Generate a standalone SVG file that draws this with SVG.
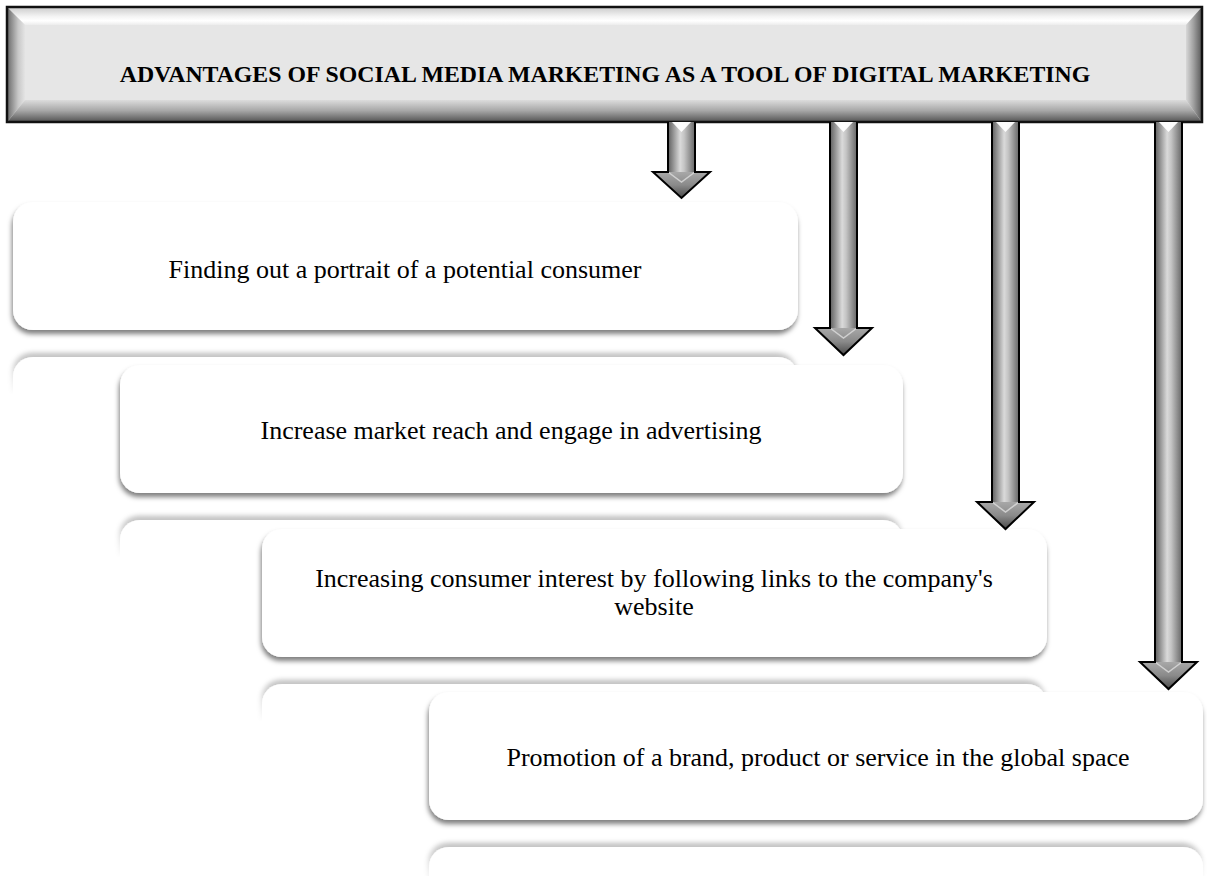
<svg xmlns="http://www.w3.org/2000/svg" xmlns:xlink="http://www.w3.org/1999/xlink" width="1207" height="876" viewBox="0 0 1207 876">
<defs>
<style>
.t{font-family:"Liberation Serif","Times New Roman",serif;font-size:26px;fill:#000;text-anchor:middle}
.title{font-family:"Liberation Serif","Times New Roman",serif;font-size:23.8px;font-weight:bold;fill:#000;text-anchor:middle}
.box{fill:#fff;filter:url(#sh)}
.refl{fill:#fff;filter:url(#shr)}
.outline{fill:none;stroke:#000;stroke-width:2;stroke-linejoin:miter}
.shaft{fill:url(#gShaft)}
.head{fill:url(#gHead)}
.hl{fill:#fff;opacity:0.95}
</style>
<filter id="sh" x="-5%" y="-20%" width="110%" height="150%">
<feDropShadow dx="-1" dy="4" stdDeviation="2.5" flood-color="#000" flood-opacity="0.5"/>
</filter>
<filter id="shr" x="-5%" y="-50%" width="110%" height="200%">
<feDropShadow dx="-1" dy="-4" stdDeviation="2.5" flood-color="#000" flood-opacity="0.4"/>
</filter>
<linearGradient id="gShaft" x1="0" y1="0" x2="1" y2="0">
<stop offset="0" stop-color="#5e5e5e"/>
<stop offset="0.2" stop-color="#959595"/>
<stop offset="0.45" stop-color="#dadada"/>
<stop offset="0.6" stop-color="#c4c4c4"/>
<stop offset="1" stop-color="#666"/>
</linearGradient>
<linearGradient id="gHead" x1="0" y1="0" x2="0" y2="1">
<stop offset="0" stop-color="#a8a8a8"/>
<stop offset="0.5" stop-color="#8a8a8a"/>
<stop offset="1" stop-color="#4a4a4a"/>
</linearGradient>
<linearGradient id="gTop" x1="0" y1="0" x2="0" y2="1">
<stop offset="0" stop-color="#cfcfcf"/>
<stop offset="0.5" stop-color="#f4f4f4"/>
<stop offset="0.75" stop-color="#ffffff"/>
<stop offset="1" stop-color="#ececec"/>
</linearGradient>
<linearGradient id="gLeft" x1="0" y1="0" x2="1" y2="0">
<stop offset="0" stop-color="#707070"/>
<stop offset="0.6" stop-color="#c8c8c8"/>
<stop offset="1" stop-color="#e4e4e4"/>
</linearGradient>
<linearGradient id="gBottom" x1="0" y1="0" x2="0" y2="1">
<stop offset="0" stop-color="#dcdcdc"/>
<stop offset="0.5" stop-color="#a8a8a8"/>
<stop offset="1" stop-color="#5a5a5a"/>
</linearGradient>
<linearGradient id="gRight" x1="0" y1="0" x2="1" y2="0">
<stop offset="0" stop-color="#d8d8d8"/>
<stop offset="0.5" stop-color="#a0a0a0"/>
<stop offset="1" stop-color="#606060"/>
</linearGradient>
<linearGradient id="fade1" gradientUnits="userSpaceOnUse" x1="0" y1="343" x2="0" y2="395">
<stop offset="0" stop-color="#fff" stop-opacity="0.8"/>
<stop offset="1" stop-color="#fff" stop-opacity="0"/>
</linearGradient>
<linearGradient id="fade2" gradientUnits="userSpaceOnUse" x1="0" y1="506" x2="0" y2="558">
<stop offset="0" stop-color="#fff" stop-opacity="0.8"/>
<stop offset="1" stop-color="#fff" stop-opacity="0"/>
</linearGradient>
<linearGradient id="fade3" gradientUnits="userSpaceOnUse" x1="0" y1="670" x2="0" y2="722">
<stop offset="0" stop-color="#fff" stop-opacity="0.8"/>
<stop offset="1" stop-color="#fff" stop-opacity="0"/>
</linearGradient>
<linearGradient id="fade4" gradientUnits="userSpaceOnUse" x1="0" y1="833" x2="0" y2="885">
<stop offset="0" stop-color="#fff" stop-opacity="0.8"/>
<stop offset="1" stop-color="#fff" stop-opacity="0"/>
</linearGradient>
<mask id="m1" maskUnits="userSpaceOnUse" x="0" y="330" width="1207" height="80"><rect x="0" y="343" width="1207" height="60" fill="url(#fade1)"/></mask>
<mask id="m2" maskUnits="userSpaceOnUse" x="0" y="493" width="1207" height="80"><rect x="0" y="506" width="1207" height="60" fill="url(#fade2)"/></mask>
<mask id="m3" maskUnits="userSpaceOnUse" x="0" y="657" width="1207" height="80"><rect x="0" y="670" width="1207" height="60" fill="url(#fade3)"/></mask>
<mask id="m4" maskUnits="userSpaceOnUse" x="0" y="820" width="1207" height="80"><rect x="0" y="833" width="1207" height="60" fill="url(#fade4)"/></mask>
</defs>
<rect width="1207" height="876" fill="#fff"/>

<g id="header">
<rect x="7" y="7" width="1195" height="115" fill="#e6e6e6"/>
<polygon points="8,8 1201,8 1186,25 25,25" fill="url(#gTop)"/>
<polygon points="8,8 25,25 25,100 8,121" fill="url(#gLeft)"/>
<polygon points="25,100 1186,100 1201,121 8,121" fill="url(#gBottom)"/>
<polygon points="1186,25 1201,8 1201,121 1186,100" fill="url(#gRight)"/>
<rect x="7" y="7" width="1195" height="115" fill="none" stroke="#111" stroke-width="2.5"/>
<text class="title" x="605" y="82">ADVANTAGES OF SOCIAL MEDIA MARKETING AS A TOOL OF DIGITAL MARKETING</text>
</g>

<g id="node1">
<rect class="box" x="13" y="202" width="785" height="128" rx="20"/>
<g mask="url(#m1)"><rect class="refl" x="13" y="357" width="785" height="128" rx="20"/></g>
<text class="t" x="405" y="278">Finding out a portrait of a potential consumer</text>
</g>

<g id="node2">
<rect class="box" x="120" y="365" width="783" height="128" rx="20"/>
<g mask="url(#m2)"><rect class="refl" x="120" y="520" width="783" height="128" rx="20"/></g>
<text class="t" x="511" y="439">Increase market reach and engage in advertising</text>
</g>

<g id="node3">
<rect class="box" x="262" y="529" width="785" height="128" rx="20"/>
<g mask="url(#m3)"><rect class="refl" x="262" y="684" width="785" height="128" rx="20"/></g>
<text class="t" x="654" y="587">Increasing consumer interest by following links to the company's</text>
<text class="t" x="654" y="615">website</text>
</g>

<g id="node4">
<rect class="box" x="429" y="692" width="774" height="128" rx="20"/>
<g mask="url(#m4)"><rect class="refl" x="429" y="847" width="774" height="128" rx="20"/></g>
<text class="t" x="818" y="766">Promotion of a brand, product or service in the global space</text>
</g>

<g id="connectors">
<g id="arrow1">
<rect class="shaft" x="668" y="122" width="27" height="50"/>
<polygon class="head" points="653,172 710,172 681.5,198"/>
<polygon class="hl" points="672,122 691,122 681.5,132"/>
<path d="M668,172 L681.5,182 L695,172" fill="none" stroke="#ddd" stroke-width="1.5" opacity="0.8"/>
<path class="outline" d="M668,122 L668,172 L653,172 L681.5,198 L710,172 L695,172 L695,122"/>
</g>
<g id="arrow2">
<rect class="shaft" x="830" y="122" width="27" height="206"/>
<polygon class="head" points="815,328 872,328 843.5,355"/>
<polygon class="hl" points="834,122 853,122 843.5,132"/>
<path d="M830,328 L843.5,338 L857,328" fill="none" stroke="#ddd" stroke-width="1.5" opacity="0.8"/>
<path class="outline" d="M830,122 L830,328 L815,328 L843.5,355 L872,328 L857,328 L857,122"/>
</g>
<g id="arrow3">
<rect class="shaft" x="992" y="122" width="27" height="380"/>
<polygon class="head" points="977,502 1034,502 1005.5,529"/>
<polygon class="hl" points="996,122 1015,122 1005.5,132"/>
<path d="M992,502 L1005.5,512 L1019,502" fill="none" stroke="#ddd" stroke-width="1.5" opacity="0.8"/>
<path class="outline" d="M992,122 L992,502 L977,502 L1005.5,529 L1034,502 L1019,502 L1019,122"/>
</g>
<g id="arrow4">
<rect class="shaft" x="1155" y="122" width="27" height="540"/>
<polygon class="head" points="1140,662 1197,662 1168.5,689"/>
<polygon class="hl" points="1159,122 1178,122 1168.5,132"/>
<path d="M1155,662 L1168.5,672 L1182,662" fill="none" stroke="#ddd" stroke-width="1.5" opacity="0.8"/>
<path class="outline" d="M1155,122 L1155,662 L1140,662 L1168.5,689 L1197,662 L1182,662 L1182,122"/>
</g>
</g>
</svg>
